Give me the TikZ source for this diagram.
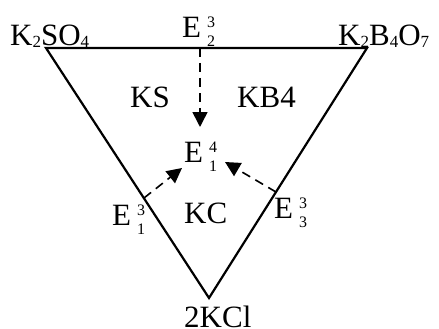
\documentclass[tikz,border=0pt]{standalone}
\usepackage{fontspec}
\setmainfont{Liberation Serif}
\usetikzlibrary{arrows.meta}
\newcommand{\idx}[2]{\hspace{6pt}{\fontsize{16}{16}\selectfont\rlap{\raisebox{10pt}{#1}}\raisebox{-9pt}{#2}}}
\newcommand{\sub}[1]{\raisebox{-1.5pt}{\fontsize{17}{17}\selectfont #1}}
\tikzset{
  lbl/.style={inner sep=0pt, anchor=base west, font=\fontsize{31}{34}\selectfont},
  edge/.style={line width=2.2pt, line join=miter},
  darrow/.style={line width=1.6pt, dash pattern=on 9pt off 6pt, -{Triangle[length=15pt,width=15pt]}}
}
\begin{document}
\begin{tikzpicture}[x=1pt,y=-1pt]
\useasboundingbox (0,0) rectangle (439,329);
\coordinate (A) at (46,48);
\coordinate (B) at (367,48);
\coordinate (C) at (209,298);
\draw[edge] (A) -- (B) -- (C) -- cycle;
\node[lbl] (ks4) at (10,46) {K\sub{2}SO\sub{4}};
\node[lbl] (kb4o7) at (338,46) {K\sub{2}B\sub{4}O\sub{7}};
\node[lbl] (kcl) at (184,327) {2KCl};
\node[lbl] (e23) at (182,38) {E\idx{3}{2}};
\node[lbl] (e14) at (184,162) {E\idx{4}{1}};
\node[lbl] (e13) at (112,225) {E\idx{3}{1}};
\node[lbl] (e33) at (274,218) {E\idx{3}{3}};
\node[lbl] (ks) at (130,107) {KS};
\node[lbl] (kb) at (237,107) {KB4};
\node[lbl] (kc) at (184,223) {KC};
\coordinate (p2) at (200,48);
\coordinate (t2) at (200,127);
\coordinate (p1) at (144,198);
\coordinate (t1) at (182,168);
\coordinate (p3) at (276,192);
\coordinate (t3) at (225,162);
\draw[darrow] (p2) -- (t2);
\draw[darrow] (p1) -- (t1);
\draw[darrow] (p3) -- (t3);
\end{tikzpicture}
\end{document}
